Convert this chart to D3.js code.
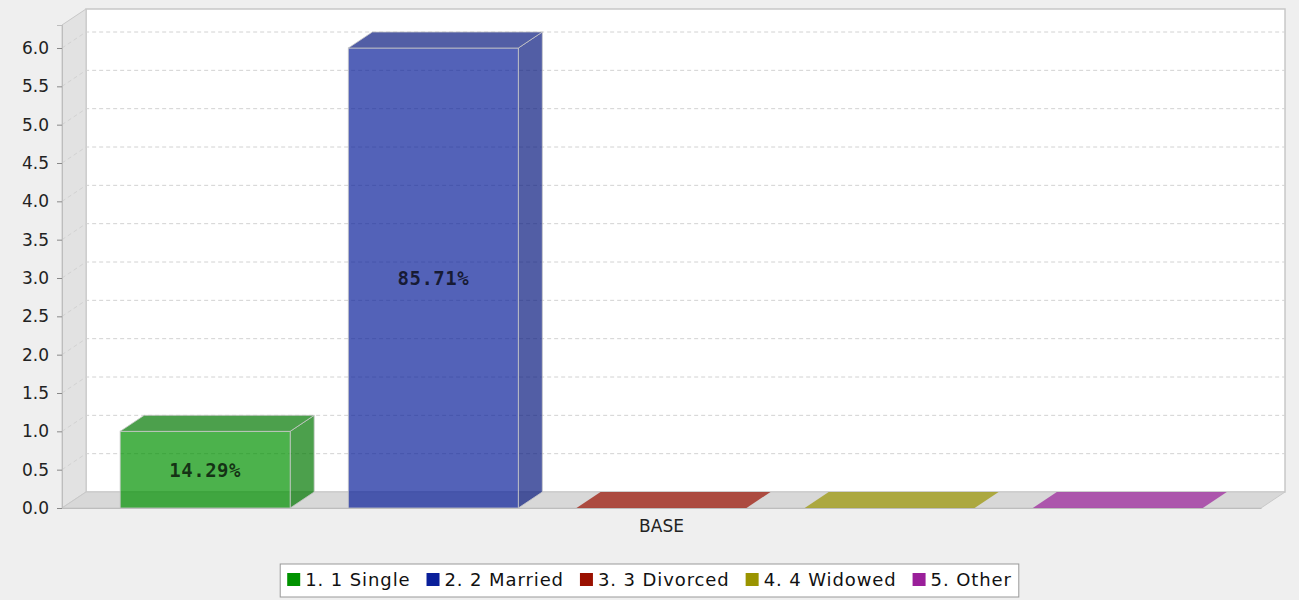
<!DOCTYPE html>
<html>
<head>
<meta charset="utf-8">
<script src="https://cdn.jsdelivr.net/npm/d3@7"></script>
<style>
  body { margin: 0; background: #efefef; }
  svg { display: block; }
  .tick text { font-family: "DejaVu Sans", sans-serif; }
</style>
</head>
<body>
<div id="wrapper"></div>
<script>
// data
const categories = ["BASE"];
const series = ["1. 1 Single", "2. 2 Married", "3. 3 Divorced", "4. 4 Widowed", "5. Other"];
const values = [1, 6, 0, 0, 0];
const colors = ["#009200", "#0a1f9a", "#9a1000", "#9a9400", "#9a1f9a"];
const yTicks = [0, 0.5, 1, 1.5, 2, 2.5, 3, 3.5, 4, 4.5, 5, 5.5, 6];

const W = 1299, H = 600;
const dx = 24, dy = -16; // 3d depth offset
const plotL = 62, plotR = 1261, plotB = 508, plotT = 25;

var svg = d3.select("#wrapper").append("svg").attr("width", W).attr("height", H);
svg.append("rect").attr("width", W).attr("height", H).attr("fill", "#efefef");

var y = d3.scaleLinear().domain([0, 6.3]).range([plotB, plotT]);
var xCat = d3.scaleBand().domain(categories).range([plotL, plotR]);
var x = d3.scaleBand().domain(series).range([plotL, plotR]).padding(0.255);
const color = d3.scaleOrdinal().domain(series).range(colors);
const total = d3.sum(values);
const pct = d3.format(".2%");

// back wall
svg.append("rect").attr("x", plotL + dx).attr("y", plotT + dy)
  .attr("width", plotR - plotL).attr("height", plotB - plotT)
  .attr("fill", "#fff").attr("stroke", "#c8c8c8").attr("stroke-width", 1.5);
// left wall
svg.append("path")
  .attr("d", `M${plotL},${plotT}L${plotL + dx},${plotT + dy}L${plotL + dx},${plotB + dy}L${plotL},${plotB}Z`)
  .attr("fill", "#e2e2e2").attr("stroke", "#c8c8c8");
// floor
svg.append("path")
  .attr("d", `M${plotL},${plotB}L${plotL + dx},${plotB + dy}L${plotR + dx},${plotB + dy}L${plotR},${plotB}Z`)
  .attr("fill", "#d8d8d8").attr("stroke", "#c8c8c8");

// gridlines
var grid = svg.append("g");
yTicks.filter(d => d > 0).forEach(function(t) {
  grid.append("path")
    .attr("d", `M${plotL},${y(t)}L${plotL + dx},${y(t) + dy}L${plotR + dx},${y(t) + dy}`)
    .attr("fill", "none").attr("stroke", "#d2d2d2").attr("stroke-dasharray", "4,3");
});

// bars
var bars = svg.selectAll(".bar").data(series).enter().append("g").attr("class", "bar");
bars.each(function(s, i) {
  const g = d3.select(this);
  const x0 = x(s), x1 = x(s) + x.bandwidth();
  const yt = y(values[i]);
  const c = d3.color(color(s));
  const dark = c.darker(0.55);
  if (values[i] > 0) {
    // side
    g.append("path")
      .attr("d", `M${x1},${yt}L${x1 + dx},${yt + dy}L${x1 + dx},${plotB + dy}L${x1},${plotB}Z`)
      .attr("fill", dark).attr("fill-opacity", 0.7).attr("stroke", "#c8c8c8").attr("stroke-opacity", 0.8);
    // front
    g.append("rect").attr("x", x0).attr("y", yt).attr("width", x1 - x0).attr("height", plotB - yt)
      .attr("fill", c).attr("fill-opacity", 0.7).attr("stroke", "#c8c8c8").attr("stroke-opacity", 0.8);
  }
  // top
  g.append("path")
    .attr("d", `M${x0},${yt}L${x0 + dx},${yt + dy}L${x1 + dx},${yt + dy}L${x1},${yt}Z`)
    .attr("fill", values[i] > 0 ? dark : c).attr("fill-opacity", 0.7)
    .attr("stroke", values[i] > 0 ? "#c8c8c8" : "none").attr("stroke-opacity", 0.8);
  if (values[i] > 0) {
    g.append("text").attr("x", (x0 + x1) / 2).attr("y", (yt + plotB) / 2)
      .attr("dy", "0.36em").attr("text-anchor", "middle")
      .style("font-family", "'DejaVu Sans Mono', monospace").style("font-weight", "bold")
      .style("font-size", "19px").style("letter-spacing", "0.5px")
      .attr("fill", "#000").attr("fill-opacity", 0.72)
      .text(pct(values[i] / total));
  }
});

// y axis
var yAxis = svg.append("g").attr("transform", `translate(${plotL},0)`)
  .call(d3.axisLeft(y).tickValues(yTicks).tickFormat(d3.format(".1f")).tickSize(5).tickPadding(8));
yAxis.select(".domain").attr("stroke", "#bdbdbd");
yAxis.selectAll(".tick line").attr("stroke", "#888");
yAxis.selectAll(".tick text").style("font-size", "17px").attr("fill", "#222");

// category axis
var xAxis = svg.append("g").attr("transform", `translate(0,${plotB})`)
  .call(d3.axisBottom(xCat).tickSize(0).tickPadding(12));
xAxis.select(".domain").attr("stroke", "#bdbdbd");
xAxis.selectAll(".tick text").style("font-size", "17px").attr("fill", "#222");

// legend
var legend = svg.append("g");
var box = legend.append("rect").attr("fill", "#fff").attr("stroke", "#999");
var cx = 0;
series.forEach(function(s) {
  legend.append("rect").attr("x", cx).attr("y", -7).attr("width", 13).attr("height", 13).attr("fill", color(s));
  var t = legend.append("text").attr("x", cx + 18).attr("y", 0).attr("dy", "0.36em")
    .style("font-family", "'DejaVu Sans', sans-serif").style("font-size", "18px").style("letter-spacing", "0.9px")
    .attr("fill", "#111").text(s);
  cx += 18 + t.node().getComputedTextLength() + 16;
});
cx -= 16;
var lw = cx + 14;
box.attr("x", -7).attr("y", -16).attr("width", lw).attr("height", 33);
legend.attr("transform", `translate(${(W - lw) / 2 + 7},${580})`);
</script>
</body>
</html>
